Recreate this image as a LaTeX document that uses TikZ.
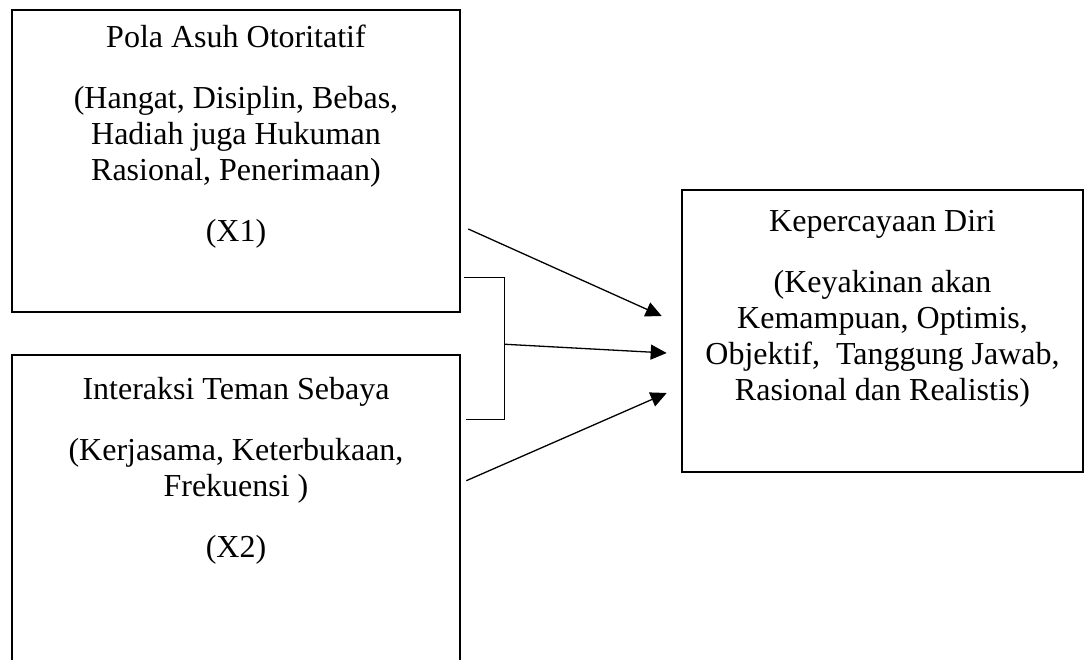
\documentclass[tikz,border=0pt]{standalone}
\usepackage{fontspec}
\setmainfont{Liberation Serif}
\usepackage{tikz}
\usetikzlibrary{arrows.meta, positioning, calc}

\tikzset{
  boxframe/.style={draw=black, line width=2.6pt, rectangle, inner sep=0pt},
  boxtext/.style={align=center, inner sep=0pt, anchor=base, font=\fontsize{32}{36}\selectfont},
  arr/.style={black, line width=1.3pt, -{Triangle[length=16pt, width=15pt]}},
  joinline/.style={black, line width=1.1pt}
}

\begin{document}
\begin{tikzpicture}[x=1pt, y=-1pt]
  % Page frame
  \useasboundingbox (0,0) rectangle (1091,659);
  \clip (0,0) rectangle (1091,659);

  % Left boxes (the lower one runs off the page)
  \node[boxframe, minimum width=448pt, minimum height=302pt] (pola) at (236,161) {};
  \node[boxframe, minimum width=448pt, minimum height=330pt] (teman) at (236,520) {};
  % Right box
  \node[boxframe, minimum width=401pt, minimum height=282pt] (kpd) at (882.5,331) {};

  % Box texts (placed by their last line)
  \node[boxtext] (polatxt) at (236,241) {Pola Asuh Otoritatif\\[25pt]
    (Hangat, Disiplin, Bebas,\\ Hadiah juga Hukuman\\ Rasional, Penerimaan)\\[25pt] (X1)};
  \node[boxtext] (temantxt) at (236,557) {Interaksi Teman Sebaya\\[25pt]
    (Kerjasama, Keterbukaan,\\ Frekuensi )\\[25pt] (X2)};
  \node[boxtext] (kpdtxt) at (882.5,400) {Kepercayaan Diri\\[25pt]
    (Keyakinan akan\\ Kemampuan, Optimis,\\ Objektif,\ \ Tanggung Jawab,\\ Rasional dan Realistis)};

  % Bracket joining X1 and X2
  \coordinate (jtop) at ([shift={(3,-36)}]pola.south east);
  \coordinate (jbot) at ([shift={(5,66)}]teman.north east);
  \draw[joinline] (jtop) -- ++(40,0) coordinate (jtr) -- (jtr |- jbot) coordinate (jbr) -- (jbot);

  % Arrows into the right box
  \draw[arr] ([shift={(7,68)}]pola.east) -- ([shift={(-19,-15)}]kpd.west);
  \draw[arr] ($(jtr)!0.47!(jbr)$) -- ([shift={(-14,22)}]kpd.west);
  \draw[arr] ([shift={(5,127)}]teman.north east) -- ([shift={(-14,62)}]kpd.west);
\end{tikzpicture}
\end{document}
